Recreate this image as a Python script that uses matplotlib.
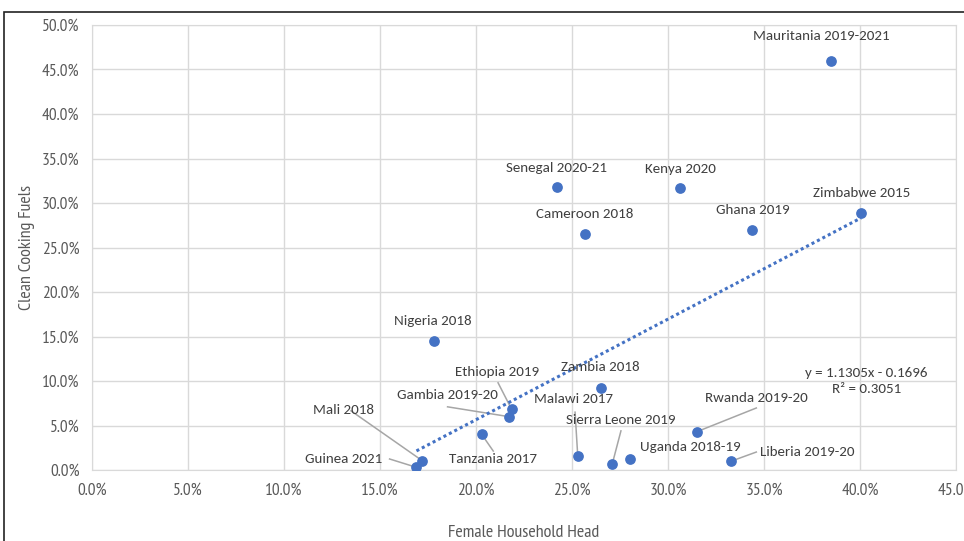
import matplotlib.pyplot as plt
from matplotlib.patches import Rectangle
from matplotlib.ticker import PercentFormatter

# data (fractions)
countries = ["Mauritania 2019-2021", "Senegal 2020-21", "Kenya 2020", "Zimbabwe 2015",
             "Ghana 2019", "Cameroon 2018", "Nigeria 2018", "Zambia 2018", "Ethiopia 2019",
             "Gambia 2019-20", "Tanzania 2017", "Mali 2018", "Guinea 2021", "Malawi 2017",
             "Sierra Leone 2019", "Uganda 2018-19", "Rwanda 2019-20", "Liberia 2019-20"]
female_head = [0.385, 0.242, 0.306, 0.4005, 0.344, 0.257, 0.178, 0.265, 0.2185,
               0.217, 0.203, 0.172, 0.169, 0.253, 0.271, 0.280, 0.315, 0.333]
clean_fuel = [0.4596, 0.318, 0.317, 0.289, 0.270, 0.265, 0.145, 0.092, 0.0685,
              0.060, 0.040, 0.0105, 0.003, 0.016, 0.007, 0.012, 0.043, 0.010]

# label centres
label_x = [0.380, 0.2417, 0.3063, 0.401, 0.344, 0.2568, 0.1776, 0.2646, 0.211,
           0.185, 0.209, 0.131, 0.131, 0.251, 0.2755, 0.3115, 0.346, 0.3724]
label_y = [0.4876, 0.3393, 0.3382, 0.3107, 0.2916, 0.2871, 0.1674, 0.1157, 0.1101,
           0.0843, 0.0124, 0.0674, 0.0124, 0.0798, 0.0562, 0.0258, 0.0807, 0.0202]
# leader line start points for labels that sit away from their marker
leaders = {
    "Ethiopia 2019": (0.2115, 0.098),
    "Gambia 2019-20": (0.1852, 0.071),
    "Malawi 2017": (0.2516, 0.065),
    "Mali 2018": (0.1349, 0.0665),
    "Sierra Leone 2019": (0.2755, 0.044),
    "Guinea 2021": (0.155, 0.0124),
    "Tanzania 2017": (0.209, 0.0213),
    "Rwanda 2019-20": (0.346, 0.0697),
    "Liberia 2019-20": (0.346, 0.0202),
}

slope, intercept = 1.1305, -0.1696

blue = "#4472C4"
txt = "#404040"
lab_font = ["Carlito", "DejaVu Sans"]
narrow = ["PT Sans Narrow", "DejaVu Sans"]

fig = plt.figure(figsize=(9.64, 5.41), dpi=100)
ax = fig.add_axes([0.0954, 0.1312, 0.8963, 0.8226])

fig.patches.append(Rectangle((4 / 964, -0.01), 1.0, 1 - 11.5 / 541 + 0.01,
                             transform=fig.transFigure, fill=False,
                             edgecolor="#222222", linewidth=1.2))

ax.scatter(female_head, clean_fuel, s=45, color=blue, zorder=4)

x0, x1 = min(female_head), max(female_head)
ax.plot([x0, x1], [slope * x0 + intercept, slope * x1 + intercept],
        linestyle=(0, (1, 1)), color=blue, linewidth=2.2, zorder=3)

for name, px, py, lx, ly in zip(countries, female_head, clean_fuel, label_x, label_y):
    ax.text(lx, ly, name, ha="center", va="center", fontsize=10.8,
            color=txt, family=lab_font, zorder=5)
    if name in leaders:
        sx, sy = leaders[name]
        ax.plot([sx, px], [sy, py], color="#a6a6a6", linewidth=1.1, zorder=2)

ax.text(0.4035, 0.1085, "y = 1.1305x - 0.1696", ha="center", va="center",
        fontsize=10.8, color=txt, family=lab_font)
ax.text(0.4035, 0.0915, "R² = 0.3051", ha="center", va="center",
        fontsize=10.8, color=txt, family=lab_font)

ax.set_xlim(0, 0.45)
ax.set_ylim(0, 0.50)
ax.set_xticks([i * 0.05 for i in range(10)])
ax.set_yticks([i * 0.05 for i in range(11)])
ax.xaxis.set_major_formatter(PercentFormatter(1.0, decimals=1))
ax.yaxis.set_major_formatter(PercentFormatter(1.0, decimals=1))
ax.grid(True, color="#d9d9d9", linewidth=1)
ax.set_axisbelow(True)
for sp in ax.spines.values():
    sp.set_color("#d9d9d9")
ax.tick_params(length=0, labelsize=12.5, labelcolor="#595959", pad=9)
for lab in ax.get_xticklabels() + ax.get_yticklabels():
    lab.set_family(narrow)

ax.set_xlabel("Female Household Head", fontsize=13, color="#595959",
              family=narrow, labelpad=19)
ax.set_ylabel("Clean Cooking Fuels", fontsize=13, color="#595959",
              family=narrow, labelpad=5)

fig.savefig("out.png", dpi=100)
